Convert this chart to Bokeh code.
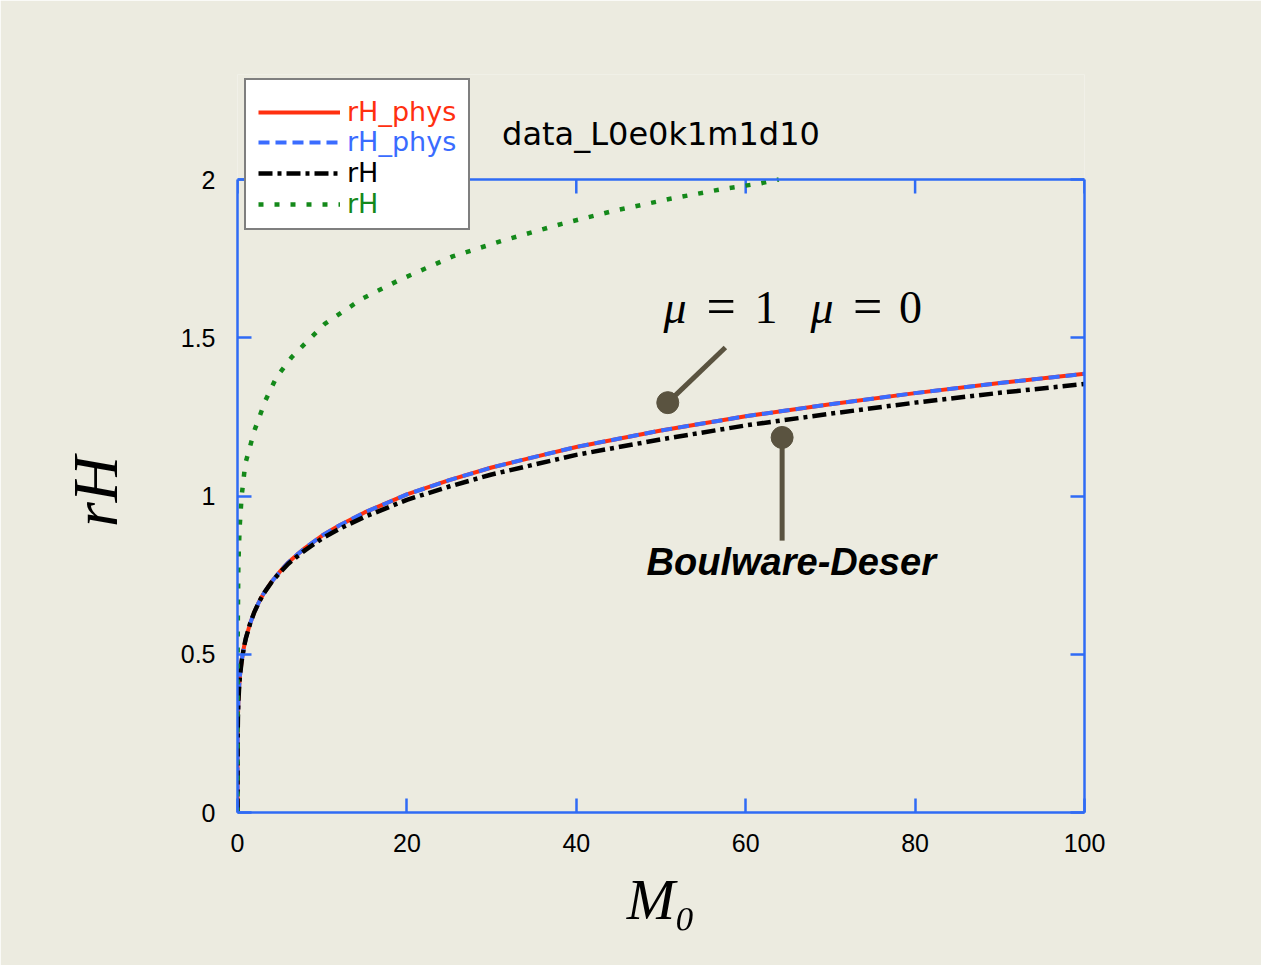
from bokeh.plotting import figure
from bokeh.models import Range1d, LinearAxis, Legend, LegendItem, Label, FixedTicker, Span
from bokeh.embed import file_html
from bokeh.resources import INLINE

# ---------------- data ----------------
m0 = [0, 0.01, 0.05, 0.1, 0.2, 0.3, 0.5, 0.75, 1, 1.5, 2, 2.5, 3, 4, 5, 6, 7, 8, 10, 12, 15,
      20, 25, 30, 35, 40, 50, 60, 70, 80, 90, 100]
rh_phys_mu1 = [0, 0.22, 0.30, 0.35, 0.40, 0.434, 0.48, 0.521, 0.552, 0.598, 0.634, 0.663,
               0.688, 0.728, 0.761, 0.79, 0.814, 0.836, 0.875, 0.907, 0.948, 1.005, 1.05,
               1.09, 1.123, 1.155, 1.207, 1.252, 1.29, 1.325, 1.357, 1.386]
rh_phys_mu0 = [0, 0.22, 0.30, 0.35, 0.40, 0.434, 0.48, 0.521, 0.552, 0.598, 0.634, 0.663,
               0.688, 0.728, 0.761, 0.79, 0.814, 0.836, 0.875, 0.907, 0.948, 1.005, 1.05,
               1.09, 1.123, 1.155, 1.207, 1.252, 1.29, 1.325, 1.357, 1.386]
rh_bd = [0, 0.22, 0.30, 0.35, 0.40, 0.434, 0.48, 0.521, 0.552, 0.598, 0.634, 0.663, 0.688,
         0.727, 0.758, 0.786, 0.808, 0.829, 0.866, 0.896, 0.934, 0.988, 1.03, 1.068, 1.099,
         1.13, 1.179, 1.223, 1.26, 1.295, 1.326, 1.354]
m0_g = [0, 0.02, 0.1, 0.25, 0.49, 0.92, 2.0, 3.3, 4.6, 6.4, 10.3, 14.7, 19.0, 25.4, 31.7,
        38.3, 44.6, 51.1, 57.5, 61.6, 63.9]
rh_g = [0, 0.55, 0.78, 0.90, 1.0, 1.102, 1.207, 1.302, 1.375, 1.439, 1.544, 1.623, 1.681,
        1.757, 1.81, 1.86, 1.902, 1.939, 1.971, 1.987, 2.0]

x_ticks = [0, 20, 40, 60, 80, 100]
x_tick_labels = ["0", "20", "40", "60", "80", "100"]
y_ticks = [0, 0.5, 1, 1.5, 2]
y_tick_labels = ["0", "0.5", "1", "1.5", "2"]
x_max, y_max = 100, 2
legend_labels = ["rH_phys", "rH_phys", "rH", "rH"]
title_text = "data_L0e0k1m1d10"
x_label = "M₀"
y_label = "rH"

# ---------------- style ----------------
BG = "#ecebe0"
BLUE = "#2f6bf5"
RED = "#ff3010"
LBLUE = "#3a6cff"
GREEN = "#14891a"
OLIVE = "#5a5340"

W, H = 1261, 965
B_LEFT, B_RIGHT, B_TOP, B_BOTTOM = 237, 177, 74, 153
frame_h = H - B_TOP - B_BOTTOM          # frame reaches above y=2 to hold the legend
box_h = 633                              # pixel height of the 0..2 box
y_top = y_max * frame_h / box_h

p = figure(width=W, height=H, x_range=Range1d(0, x_max), y_range=Range1d(0, y_top),
           output_backend="svg", toolbar_location=None,
           min_border_left=B_LEFT, min_border_right=B_RIGHT,
           min_border_top=B_TOP, min_border_bottom=B_BOTTOM,
           background_fill_color=BG, border_fill_color=BG)
p.outline_line_color = None
p.xgrid.visible = False
p.ygrid.visible = False

bottom_ax = p.below[0]
left_ax = p.left[0]
right_ax = LinearAxis(bounds=(0, y_max))
p.add_layout(right_ax, "right")
left_ax.bounds = (0, y_max)

for ax, ticks, labels in [(bottom_ax, x_ticks, x_tick_labels),
                          (left_ax, y_ticks, y_tick_labels), (right_ax, y_ticks, None)]:
    ax.ticker = FixedTicker(ticks=ticks)
    ax.axis_line_color = BLUE
    ax.axis_line_width = 2.5
    ax.major_tick_line_color = BLUE
    ax.major_tick_line_width = 2.5
    ax.major_tick_in = 14
    ax.major_tick_out = 0
    ax.minor_tick_line_color = None
    ax.major_label_text_font = "Liberation Sans"
    ax.major_label_text_font_size = "25px"
    ax.major_label_text_color = "black"
    if labels is None:
        ax.major_label_overrides = {t: "" for t in ticks}
    else:
        ax.major_label_overrides = {t: l for t, l in zip(ticks, labels)}
bottom_ax.major_label_standoff = 21
left_ax.major_label_standoff = 22

bottom_ax.axis_label = x_label
bottom_ax.axis_label_text_font = "Liberation Serif"
bottom_ax.axis_label_text_font_style = "italic"
bottom_ax.axis_label_text_font_size = "58px"
bottom_ax.axis_label_text_color = "black"
bottom_ax.axis_label_standoff = 12

# the label is centred on the whole (taller) frame: pad its end with no-break spaces
left_ax.axis_label = y_label + "\u00a0" * 6
left_ax.axis_label_text_font = "Liberation Serif"
left_ax.axis_label_text_font_style = "italic"
left_ax.axis_label_text_font_size = "64px"
left_ax.axis_label_text_color = "black"
left_ax.axis_label_standoff = 47

# top edge of the box with inward ticks
p.add_layout(Span(location=y_max, dimension="width", line_color=BLUE, line_width=2.5))
tick_len = 14 * y_max / box_h
p.segment(x0=x_ticks, y0=[y_max] * len(x_ticks), x1=x_ticks,
          y1=[y_max - tick_len] * len(x_ticks), line_color=BLUE, line_width=2.5)

# ---------------- curves ----------------
r_red = p.line(m0, rh_phys_mu1, line_color=RED, line_width=4)
r_blue = p.line(m0, rh_phys_mu0, line_color=LBLUE, line_width=4, line_dash="11 6")
r_black = p.line(m0, rh_bd, line_color="black", line_width=4.5, line_dash="14 5 4 5")
r_green = p.line(m0_g, rh_g, line_color=GREEN, line_width=4.5, line_dash="5 11")

# ---------------- legend (white box + coloured rows) ----------------
dummies = [p.line([], [], line_alpha=0) for _ in range(4)]
box = Legend(items=[LegendItem(label=" ", renderers=[d]) for d in dummies],
             location=(7, 582), margin=0, padding=12, spacing=0,
             label_height=31, glyph_height=31, glyph_width=171, label_standoff=7,
             label_text_font="DejaVu Sans", label_text_font_size="26px", label_text_alpha=0,
             background_fill_color="white", background_fill_alpha=1,
             border_line_color="black", border_line_width=2.5)
p.add_layout(box, "center")

row_y = [685, 655, 624, 593]
for lab_txt, rend, col, yy in zip(legend_labels, [r_red, r_blue, r_black, r_green],
                                  [RED, LBLUE, "black", GREEN], row_y):
    lg = Legend(items=[LegendItem(label=lab_txt, renderers=[rend])], location=(21, yy),
                margin=0, padding=0, spacing=0, label_height=30, glyph_height=30,
                glyph_width=82, label_standoff=7, label_text_font="DejaVu Sans",
                label_text_font_size="27px", label_text_color=col,
                background_fill_alpha=0, border_line_color=None)
    p.add_layout(lg, "center")

# ---------------- texts ----------------
def lab(x, y, text, size, font="Liberation Serif", style="normal", color="black",
        align="left"):
    p.add_layout(Label(x=x, y=y, text=text, text_font=font, text_font_size=size,
                       text_font_style=style, text_color=color, text_align=align,
                       text_baseline="middle"))

lab(50, 2.1453, title_text, "32px", font="DejaVu Sans", align="center")

# mu annotations
lab(50.3, 1.596, "μ", "46px", style="italic")
lab(57.1, 1.599, "=", "52px", align="center")
lab(62.4, 1.596, "1", "46px", align="center")
lab(67.65, 1.596, "μ", "46px", style="italic")
lab(74.4, 1.599, "=", "52px", align="center")
lab(79.46, 1.596, "0", "46px", align="center")

lab(48.3, 0.79, "Boulware-Deser", "38px", font="Liberation Sans", style="bold italic")

# callouts
p.line([57.6, 50.8], [1.469, 1.295], line_color=OLIVE, line_width=5)
p.scatter([50.8], [1.295], size=22, color=OLIVE)
p.line([64.3, 64.3], [1.185, 0.859], line_color=OLIVE, line_width=5)
p.scatter([64.3], [1.185], size=22, color=OLIVE)

open("out.html", "w").write(file_html(p, INLINE))
